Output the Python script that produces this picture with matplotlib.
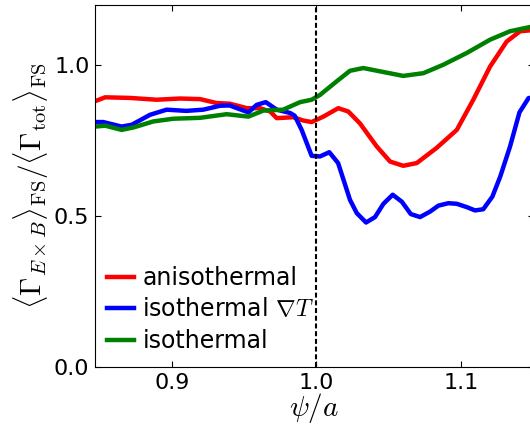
import matplotlib
matplotlib.use("Agg")
import matplotlib.pyplot as plt

plt.rcParams['font.family'] = ['DejaVu Sans']
plt.rcParams['mathtext.fontset'] = 'cm'

# anisothermal
x_aniso = [0.847, 0.854, 0.871, 0.8896, 0.9057, 0.9196, 0.931, 0.940, 0.952, 0.961,
           0.968, 0.9726, 0.984, 0.991, 0.9967, 1.0048, 1.0151, 1.022, 1.030, 1.0417,
           1.0509, 1.060, 1.0693, 1.083, 1.097, 1.1084, 1.120, 1.1315, 1.1407, 1.1476]
y_aniso = [0.881, 0.894, 0.892, 0.886, 0.890, 0.888, 0.875, 0.873, 0.858, 0.858,
           0.847, 0.825, 0.828, 0.817, 0.812, 0.830, 0.858, 0.847, 0.808, 0.731,
           0.681, 0.667, 0.676, 0.726, 0.786, 0.886, 0.996, 1.079, 1.113, 1.116]

# isothermal grad T
x_isoT = [0.847, 0.8527, 0.8654, 0.8724, 0.885, 0.8965, 0.910, 0.9218, 0.9334, 0.940,
          0.953, 0.9587, 0.965, 0.9726, 0.9818, 0.985, 0.9898, 0.9967, 1.0025, 1.0089,
          1.015, 1.0232, 1.0279, 1.0343, 1.0405, 1.0463, 1.0527, 1.059, 1.0652, 1.0716,
          1.0785, 1.0843, 1.0912, 1.097, 1.1039, 1.1096, 1.1153, 1.1216, 1.127, 1.1338,
          1.1403, 1.1465, 1.150]
y_isoT = [0.812, 0.812, 0.797, 0.803, 0.836, 0.853, 0.849, 0.853, 0.866, 0.867,
          0.844, 0.869, 0.878, 0.853, 0.842, 0.833, 0.786, 0.700, 0.698, 0.712,
          0.676, 0.554, 0.510, 0.479, 0.497, 0.541, 0.571, 0.548, 0.507, 0.497,
          0.515, 0.535, 0.543, 0.541, 0.530, 0.519, 0.523, 0.565, 0.631, 0.731,
          0.844, 0.891, 0.895]

# isothermal
x_iso = [0.847, 0.854, 0.8654, 0.8735, 0.8873, 0.901, 0.9196, 0.938, 0.953, 0.9633,
         0.977, 0.9887, 0.9967, 1.0025, 1.014, 1.0232, 1.0324, 1.044, 1.060, 1.0739,
         1.0877, 1.1039, 1.120, 1.1338, 1.1476]
y_iso = [0.797, 0.800, 0.786, 0.794, 0.814, 0.823, 0.826, 0.838, 0.830, 0.850,
         0.853, 0.878, 0.886, 0.902, 0.947, 0.982, 0.991, 0.980, 0.965, 0.974,
         1.002, 1.041, 1.085, 1.113, 1.127]

labels = ['anisothermal', r'isothermal $\nabla T$', 'isothermal']
xticks = [0.9, 1.0, 1.1]
yticks = [0.0, 0.5, 1.0]

fig = plt.figure(figsize=(5.3, 4.3), dpi=100)
ax = fig.add_axes([95/530, 63/430, 438.5/530, 362/430])

lw = 3.2
ax.plot(x_aniso, y_aniso, color='#ff0000', lw=lw, label=labels[0])
ax.plot(x_isoT, y_isoT, color='#0000ff', lw=lw, label=labels[1])
ax.plot(x_iso, y_iso, color='#008000', lw=lw, label=labels[2])
ax.axvline(1.0, color='black', lw=1.5, linestyle=(0, (2.4, 1.3)))

ax.set_xlim(0.847, 1.15)
ax.set_ylim(0, 1.2)
ax.set_xticks(xticks)
ax.set_xticklabels(['%.1f' % v for v in xticks])
ax.set_yticks(yticks)
ax.set_yticklabels(['%.1f' % v for v in yticks])
ax.tick_params(direction='in', top=True, right=True, labelsize=16, length=4, pad=4)

ax.set_xlabel(r'$\psi/a$', fontsize=21, labelpad=-1)
ax.set_ylabel(r'$\langle\Gamma_{E\times B}\rangle_{\mathrm{FS}}/\langle\Gamma_{\mathrm{tot}}\rangle_{\mathrm{FS}}$',
              fontsize=21, labelpad=2)

leg = ax.legend(loc='lower left', frameon=False, fontsize=17, handlelength=1.15,
                handletextpad=0.35, labelspacing=0.32, borderpad=0, borderaxespad=0,
                bbox_to_anchor=(12/438.5, 14/362))

fig.savefig('out.png', dpi=100)
